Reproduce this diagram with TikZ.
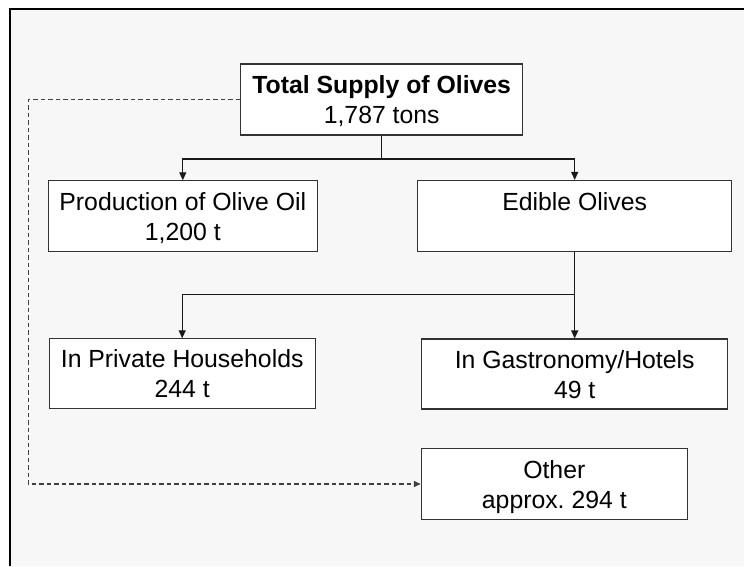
\documentclass[tikz,border=0pt]{standalone}
\usepackage{fontspec}
\setmainfont{Liberation Sans}
\usetikzlibrary{arrows.meta}
\definecolor{bgc}{HTML}{F7F7F7}
\definecolor{boxc}{HTML}{333333}
\newcommand\olTop{\rule{0pt}{25pt}}
\newcommand\olBot{\rule[-7pt]{0pt}{7pt}}
\frenchspacing
\begin{document}
\begin{tikzpicture}[x=1pt,y=-1pt,
  box/.style={draw=boxc,fill=white,line width=1.1pt,inner sep=2pt,align=center,
    font=\fontsize{24.8}{30}\selectfont},
  conn/.style={draw=black!90,line width=1.3pt},
  arr/.style={conn,-{Triangle[length=8pt,width=7pt]}},
  dconn/.style={draw=black!75,line width=1.5pt,dash pattern=on 4.5pt off 3pt,
    -{Triangle[length=7pt,width=6pt]}}]
\useasboundingbox (0,0) rectangle (744,566);
\fill[white] (0,0) rectangle (744,566);
\fill[bgc] (10,9) rectangle (744,566);
\draw[line width=2pt] (10,566) -- (10,9) -- (744,9);

\node[box,minimum width=282pt,minimum height=71pt] (total) at (381.7,99.5)
  {\olTop\textbf{Total Supply of Olives}\\1,787 tons\olBot};
\node[box,minimum width=269pt,minimum height=71pt] (oil) at (182.8,216.3)
  {\olTop Production of Olive Oil\\1,200 t\olBot};
\node[box,minimum width=314pt,minimum height=71pt] (edible) at (574.7,216)
  {\olTop Edible Olives\\\olBot};
\node[box,minimum width=266pt,minimum height=70pt] (private) at (182.2,373.8)
  {\olTop In Private Households\\244 t\olBot};
\node[box,minimum width=306pt,minimum height=70pt] (gastro) at (574.7,374)
  {\olTop In Gastronomy/Hotels\\49 t\olBot};
\node[box,minimum width=266pt,minimum height=71pt] (other) at (554.3,484)
  {\olTop Other\\approx.\ 294 t\olBot};

\path (total.south) ++(0,23.3) coordinate (s1);
\draw[conn] (total.south) -- (s1);
\draw[arr] (s1) -| (oil.north);
\draw[arr] (s1) -| (edible.north);

\path (edible.south) ++(0,42.3) coordinate (s2);
\draw[arr] (edible.south) -- (gastro.north);
\draw[arr] (s2) -| (private.north);

\coordinate (d2) at (28.3,484);
\draw[dconn] (total.west) -| (d2) -- (other.west);
\end{tikzpicture}
\end{document}
